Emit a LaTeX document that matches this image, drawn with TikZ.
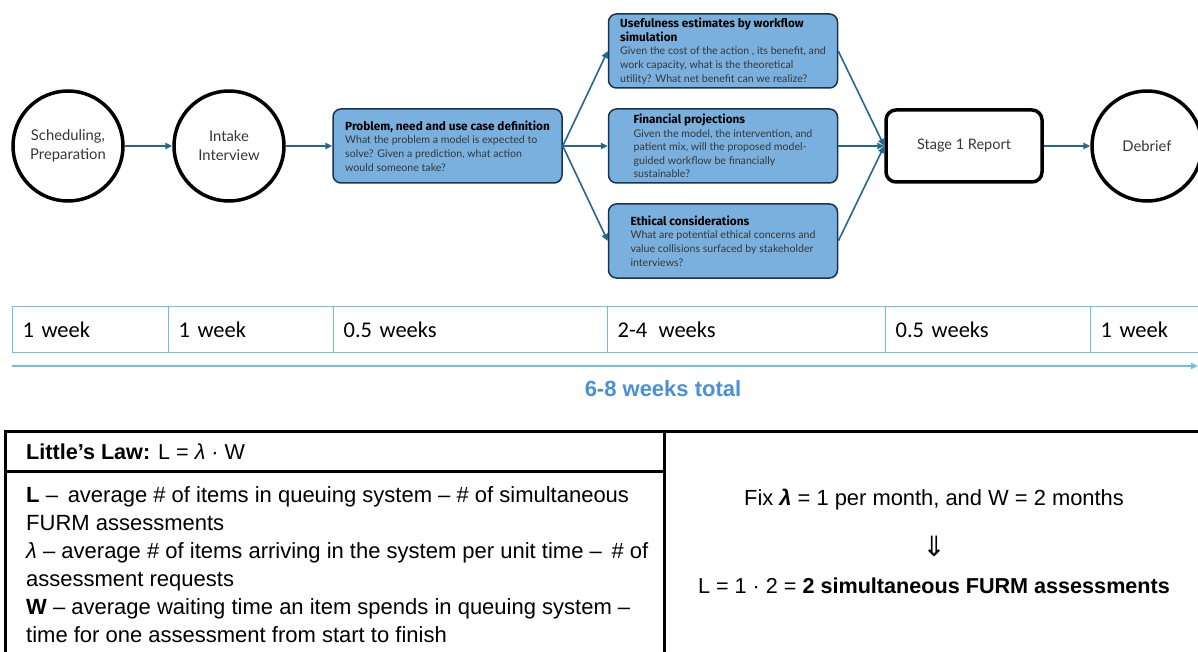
\documentclass[tikz,border=0pt]{standalone}
\usepackage{fontspec}
\setmainfont{Liberation Sans}
\newfontfamily\boxfont{Lato}
\newfontfamily\titlefont{Fira Sans}
\newfontfamily\cellfont{Carlito}
\newfontfamily\symbfont{DejaVu Sans}
\usetikzlibrary{arrows.meta}

\definecolor{flowblue}{RGB}{36,104,146}
\definecolor{boxfill}{RGB}{122,176,222}
\definecolor{boxedge}{RGB}{22,52,80}
\definecolor{bodygray}{RGB}{55,55,55}
\definecolor{gridblue}{RGB}{110,190,230}
\definecolor{totalblue}{RGB}{74,144,214}

\tikzset{
  stagecircle/.style={circle, draw=black, line width=3.5pt, minimum size=110pt,
    inner sep=0pt, align=center, text=bodygray,
    font={\boxfont\fontsize{14.8}{19}\selectfont}},
  taskbox/.style={rectangle, rounded corners=8pt, draw=boxedge, line width=1.5pt,
    fill=boxfill, minimum width=229pt, minimum height=74pt, inner sep=0pt,
    align=left, text=bodygray, font={\boxfont\fontsize{10.6}{13.6}\selectfont}},
  reportbox/.style={rectangle, rounded corners=10pt, draw=black, line width=3.5pt,
    minimum width=156pt, minimum height=72pt, text=bodygray,
    font={\boxfont\fontsize{14.5}{19}\selectfont}},
  flow/.style={draw=flowblue, line width=1.6pt, -{Triangle[length=7pt,width=6.5pt]}},
  weekcell/.style={draw=gridblue, line width=1.3pt, anchor=north west,
    minimum height=46pt, inner xsep=10pt, inner ysep=0pt, align=left,
    font={\cellfont\fontsize{22.5}{26}\selectfont}},
  timeline/.style={draw=gridblue, line width=1.5pt, -{Triangle[length=7pt,width=6pt]}},
  lawcell/.style={draw=black, line width=3pt, anchor=north west, inner sep=0pt},
  lawtext/.style={inner sep=0pt, font={\fontsize{22}{28}\selectfont}},
}
\newcommand{\ttl}[1]{\textcolor{black}{\titlefont\bfseries\fontsize{11.8}{13.6}\selectfont #1}}

\begin{document}
\begin{tikzpicture}[x=1pt, y=-1pt]
\clip (0,0) rectangle (1198,652);
\fill[white] (0,0) rectangle (1198,652);

% ---- process flow ----
\node[stagecircle] (sched) at (68,146) {Scheduling,\\Preparation};
\node[stagecircle] (intake) at (229,146) {Intake\\Interview};
\node[taskbox] (problem) at (447.5,146) {\ttl{Problem, need and use case definition}\\
  What the problem a model is expected to\\
  solve? Given a prediction, what action\\
  would someone take?};
\node[taskbox] (useful) at (723,51) {\ttl{Usefulness estimates by workflow}\\
  \ttl{simulation}\\
  Given the cost of the action , its benefit, and\\
  work capacity, what is the theoretical\\
  utility? What net benefit can we realize?};
\node[taskbox] (financial) at (723,146) {\ttl{Financial projections}\\
  Given the model, the intervention, and\\
  patient mix, will the proposed model-\\
  guided workflow be financially\\
  sustainable?};
\node[taskbox] (ethical) at (723,241) {\ttl{Ethical considerations}\\
  What are potential ethical concerns and\\
  value collisions surfaced by stakeholder\\
  interviews?};
\node[reportbox] (stage1) at (964,146) {Stage 1 Report};
\node[stagecircle] (debrief) at (1147,146) {Debrief};

\draw[flow] (sched) -- (intake);
\draw[flow] (intake) -- (problem);
\draw[flow] (problem.east) -- (useful.west);
\draw[flow] (problem.east) -- (financial.west);
\draw[flow] (problem.east) -- (ethical.west);
\draw[flow] (useful.east) -- (stage1.west);
\draw[flow] (financial.east) -- (stage1.west);
\draw[flow] (ethical.east) -- (stage1.west);
\draw[flow] (stage1) -- (debrief);

% ---- durations ----
\node[weekcell, text width=136pt] (d1) at (12,306) {1 week};
\node[weekcell, text width=145pt] (d2) at (168,306) {1 week};
\node[weekcell, text width=254pt] (d3) at (333,306) {0.5 weeks};
\node[weekcell, text width=258pt] (d4) at (607,306) {2-4\, weeks};
\node[weekcell, text width=185pt] (d5) at (885,306) {0.5 weeks};
\node[weekcell, text width=100pt] (d6) at (1090,306) {1 week};

\coordinate (tstart) at (12,366);
\coordinate (tend) at (1198,366);
\draw[timeline] (tstart) -- (tend);
\node[text=totalblue, font={\bfseries\fontsize{22}{26}\selectfont}] (total) at (663,389) {6-8 weeks total};

% ---- Little's law table ----
\node[lawcell, minimum width=659pt, minimum height=40pt] (lawhead) at (4,430) {};
\node[lawcell, minimum width=659pt, minimum height=192pt] (lawbody) at (4,470) {};
\node[lawcell, minimum width=547pt, minimum height=232pt] (example) at (663,430) {};

\node[lawtext, anchor=west, font={\fontsize{21.6}{28}\selectfont}] (lawtitle) at (26,452) {\textbf{Little’s Law:} L = \textit{λ} · W};
\node[lawtext, anchor=north west, align=left] (lawdefs) at (26,486) {%
  \textbf{L} –\, average \# of items in queuing system – \# of simultaneous\\
  FURM assessments\\
  \textit{λ} – average \# of items arriving in the system per unit time –\, \# of\\
  assessment requests\\
  \textbf{W} – average waiting time an item spends in queuing system –\\
  time for one assessment from start to finish};

\node[lawtext, font={\fontsize{21.9}{28}\selectfont}] (fixline) at (934,500) {Fix \textit{\textbf{λ}} = 1 per month, and W = 2 months};
\node[lawtext, font={\symbfont\fontsize{28}{30}\selectfont}] (implies) at (934,546) {⇓};
\node[lawtext, font={\fontsize{21.6}{28}\selectfont}] (result) at (934,586) {L = 1 · 2 = \textbf{2 simultaneous FURM assessments}};
\end{tikzpicture}
\end{document}
